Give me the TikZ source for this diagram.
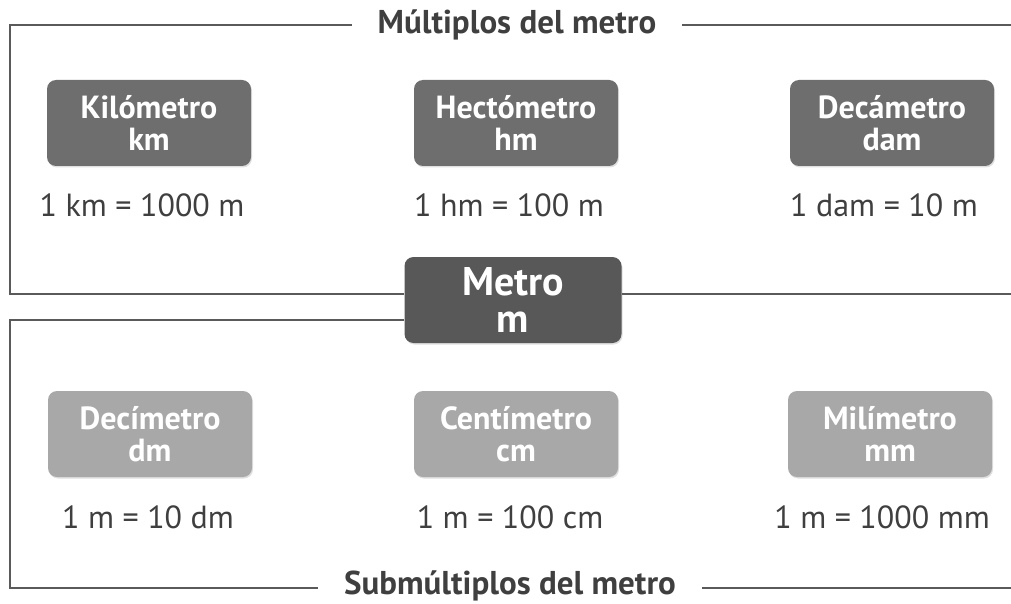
\documentclass[tikz,border=0pt]{standalone}
\usepackage{fontspec}
\setmainfont{PT Sans}
\usetikzlibrary{positioning,shadows}

\definecolor{darkbox}{HTML}{6E6E6E}
\definecolor{metrobox}{HTML}{585858}
\definecolor{lightbox}{HTML}{A8A8A8}
\definecolor{framegray}{HTML}{5A5A5A}
\definecolor{eqgray}{HTML}{3F3F3F}

\begin{document}
\begin{tikzpicture}[x=1pt,y=-1pt,
	unitbox/.style={rounded corners=9pt, minimum width=204pt, minimum height=86pt,
		align=center, text=white, font=\bfseries\fontsize{32}{32}\selectfont,
		drop shadow={opacity=0.25, shadow xshift=1pt, shadow yshift=-1.5pt}},
	multbox/.style={unitbox, fill=darkbox},
	submbox/.style={unitbox, fill=lightbox},
	eq/.style={text=eqgray, font=\fontsize{32}{34}\selectfont},
	heading/.style={text=eqgray, font=\bfseries\fontsize{33}{34}\selectfont, inner xsep=26pt},
	frame/.style={framegray, line width=2pt}]

	\useasboundingbox (0,0) rectangle (1011,604);

	% headings
	\node (mult) [heading] at (517,25) {Múltiplos del metro};
	\node (subm) [heading] at (510,586) {Submúltiplos del metro};

	% central unit
	\node (m) [unitbox, fill=metrobox, minimum width=217pt, minimum height=86pt,
		font=\bfseries\fontsize{40}{37}\selectfont] at (513,300) {Metro\\m};

	% multiples
	\node (km) [multbox] at (149,123) {Kilómetro\\km};
	\node (hm) [multbox] at (516,123) {Hectómetro\\hm};
	\node (dam) [multbox] at (892,123) {Decámetro\\dam};
	\node (kmeq) [eq] at (142,205) {1 km = 1000 m};
	\node (hmeq) [eq] at (509,205) {1 hm = 100 m};
	\node (dameq) [eq] at (884,205) {1 dam = 10 m};

	% submultiples
	\node (dm) [submbox] at (150,434) {Decímetro\\dm};
	\node (cm) [submbox] at (516,434) {Centímetro\\cm};
	\node (mm) [submbox] at (890,434) {Milímetro\\mm};
	\node (dmeq) [eq] at (148,517) {1 m = 10 dm};
	\node (cmeq) [eq] at (510,517) {1 m = 100 cm};
	\node (mmeq) [eq] at (882,517) {1 m = 1000 mm};

	% frames
	\coordinate (tl) at (10,25);
	\coordinate (tr) at (1011,25);
	\coordinate (ml) at (10,294);
	\coordinate (mr) at (1011,294);
	\coordinate (nl) at (10,320);
	\coordinate (nr) at (1011,320);
	\coordinate (bl) at (10,588);
	\coordinate (br) at (1011,588);

	\draw [frame] (mult.west) -- (tl) -- (ml) -- (m.west |- ml);
	\draw [frame] (mult.east) -- (tr);
	\draw [frame] (m.east |- mr) -- (mr);
	\draw [frame] (m.west |- nl) -- (nl) -- (bl) -- (subm.west |- bl);
	\draw [frame] (subm.east |- br) -- (br);

\end{tikzpicture}
\end{document}
